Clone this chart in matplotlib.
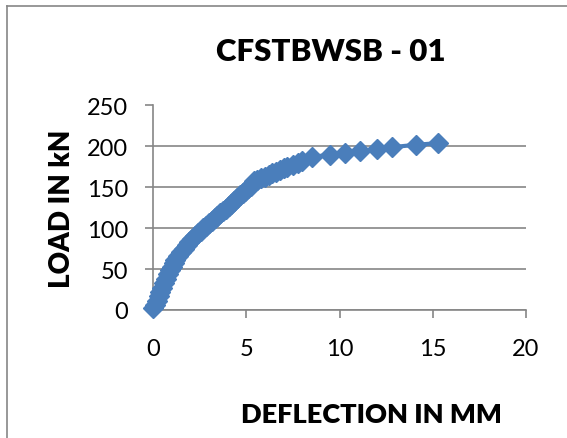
import matplotlib.pyplot as plt
from matplotlib.lines import Line2D

deflection = [0, 0.1, 0.2, 0.3, 0.4, 0.5, 0.6, 0.7, 0.8, 0.9, 1.0, 1.1, 1.2, 1.35, 1.5,
              1.65, 1.8, 1.95, 2.1, 2.25, 2.4, 2.55, 2.7, 2.85, 3.0, 3.15, 3.3, 3.45, 3.6,
              3.75, 3.9, 4.05, 4.2, 4.35, 4.5, 4.65, 4.8, 4.95, 5.1, 5.25, 5.4, 5.6, 5.8,
              6.0, 6.2, 6.4, 6.6, 6.8, 7.0, 7.2, 7.5, 7.8, 8.0, 8.5, 9.5, 10.3, 11.1,
              12.0, 12.8, 14.1, 15.3]
load = [2, 6, 11, 17, 22, 27, 33, 38, 44, 49, 53, 57, 61, 66, 71,
        75, 79, 83, 87, 90, 94, 97, 100, 103, 106, 109, 112, 115, 118,
        121, 124, 127, 130, 133, 137, 140, 143, 146, 149, 152, 158, 159, 161,
        163, 165, 167, 169, 171, 173, 175, 177, 180, 182, 187, 190, 192, 194,
        197, 199, 202, 204]

x_ticks = [0, 5, 10, 15, 20]
y_ticks = [0, 50, 100, 150, 200, 250]

blue = '#4A7EBB'
grey = '#868686'
font = 'Lato'

fig = plt.figure(figsize=(5.67, 4.39), dpi=100)
ax = fig.add_axes([153/567, 1 - 311/439, 373/567, 204.5/439])

ax.plot(deflection, load, color=blue, lw=3, marker='D', ms=10.5, mfc=blue, mec=blue, clip_on=False, zorder=5)

ax.set_xlim(0, 20); ax.set_ylim(0, 250)
ax.set_xticks(x_ticks); ax.set_yticks(y_ticks)
ax.yaxis.grid(True, color=grey, lw=1.2)
ax.set_axisbelow(True)
for s in ['top', 'right']:
    ax.spines[s].set_visible(False)
for s in ['left', 'bottom']:
    ax.spines[s].set_color(grey)
    ax.spines[s].set_linewidth(1.2)
ax.tick_params(direction='out', length=6, width=1.2, color=grey, labelsize=17)
for lab in ax.get_xticklabels() + ax.get_yticklabels():
    lab.set_fontfamily(font)
ax.tick_params(axis='y', pad=12)
ax.tick_params(axis='x', pad=14)

fig.text(331/567, 1 - 52/439, 'CFSTBWSB - 01', ha='center', va='center', fontsize=22.5,
         fontweight='heavy', family=font)
fig.text(62/567, 1 - 209/439, 'LOAD IN kN', ha='center', va='center', rotation=90,
         fontsize=20, fontweight='heavy', family=font)
fig.text(371/567, 1 - 415/439, 'DEFLECTION IN MM', ha='center', va='center', fontsize=19.5,
         fontweight='heavy', family=font)

# chart frame (cropped at right and bottom)
fig.add_artist(Line2D([7/567, 1], [1 - 7/439, 1 - 7/439], color=grey, lw=1.2, transform=fig.transFigure))
fig.add_artist(Line2D([7/567, 7/567], [0, 1 - 7/439], color=grey, lw=1.2, transform=fig.transFigure))

fig.savefig('out.png', dpi=100)
